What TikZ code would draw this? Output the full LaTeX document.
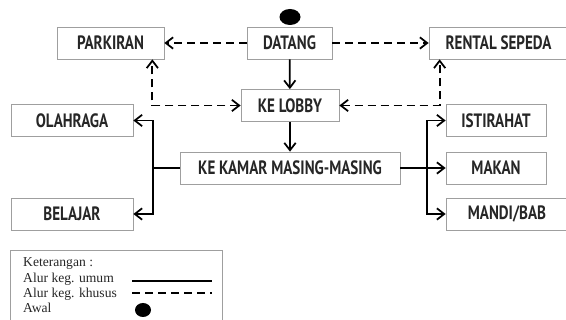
\documentclass[tikz,border=0pt]{standalone}
\usepackage{fontspec}
\newfontfamily\boxfont[FakeStretch=0.78]{PT Sans}
\newfontfamily\legendfont{Liberation Serif}
\usetikzlibrary{arrows.meta, shapes.geometric}

\begin{document}
\begin{tikzpicture}[
    x=0.3mm, y=-0.3mm,
    box/.style={
        rectangle, draw=gray!75, line width=0.6pt, fill=white,
        minimum height=9.6mm, inner sep=0pt,
        align=center, font=\boxfont\bfseries\fontsize{16.5}{18}\selectfont,
        text=black!85
    },
    flow/.style={line width=1.5pt, ->},
    special/.style={line width=1.5pt, dash pattern=on 2.4mm off 1.5mm},
    legtext/.style={anchor=west, inner sep=0pt, font=\legendfont\fontsize{11.6}{14}\selectfont, text=black!85},
    >={Straight Barb[length=2.2mm, width=3.4mm]}
]
\useasboundingbox (0,0) rectangle (566,320);

% start
\node[ellipse, fill=black, minimum width=6.3mm, minimum height=4.8mm, inner sep=0pt] (awal) at (290,17) {};

% top row
\node[box, minimum width=25.5mm] (datang) at (289.5,43) {DATANG};
\node[box, minimum width=32.1mm] (parkiran) at (110.5,43) {PARKIRAN};
\node[box, minimum width=41.7mm] (rental) at (498.5,43) {RENTAL SEPEDA};

% middle
\node[box, minimum width=29.4mm] (lobby) at (290,105.5) {KE LOBBY};
\node[box, minimum width=66mm] (kamar) at (290,168) {KE KAMAR MASING-MASING};

% left activities
\node[box, minimum width=36.6mm] (olahraga) at (72,120.5) {OLAHRAGA};
\node[box, minimum width=36.6mm] (belajar) at (72,214) {BELAJAR};

% right activities
\node[box, minimum width=30mm] (istirahat) at (496,120.5) {ISTIRAHAT};
\node[box, minimum width=30mm] (makan) at (496,168) {MAKAN};
\node[box, minimum width=36.6mm] (mandi) at (507,214) {MANDI/BAB};

\coordinate (lsplit) at (153,168);
\coordinate (rsplit) at (427,168);

% alur umum
\draw[flow] (datang) -- (lobby);
\draw[flow] (lobby) -- (kamar);
\draw[flow] (kamar.west) -- (lsplit) |- (olahraga.east);
\draw[flow] (lsplit) |- (belajar.east);
\draw[flow] (kamar.east) -- (makan.west);
\draw[flow] (rsplit) |- (istirahat.west);
\draw[flow] (rsplit) |- (mandi.west);

% alur khusus
\draw[special, ->] (datang.west) -- (parkiran.east);
\draw[special, ->] (datang.east) -- (rental.west);
\draw[special, <->] (lobby.west) -| ([xshift=-3.6mm]parkiran.south east);
\draw[special, <->] (lobby.east) -| ([xshift=3.3mm]rental.south west);

% keterangan
\node[draw=gray!75, line width=0.6pt, anchor=north west, minimum width=63.6mm, minimum height=22mm] (legend) at (10,250) {};
\node[legtext] (ket) at (23,264) {Keterangan :};
\node[legtext] (umum) at (23,279) {Alur keg. umum};
\node[legtext] (khusus) at (23,294) {Alur keg. khusus};
\node[legtext] (awaltext) at (23,308) {Awal};
\draw[line width=1.5pt] (132,281) -- (212,281);
\draw[special] (132,293) -- (212,293);
\node[ellipse, fill=black, minimum width=4.8mm, minimum height=4.2mm, inner sep=0pt] (awaldot) at (143,310) {};

\end{tikzpicture}
\end{document}
